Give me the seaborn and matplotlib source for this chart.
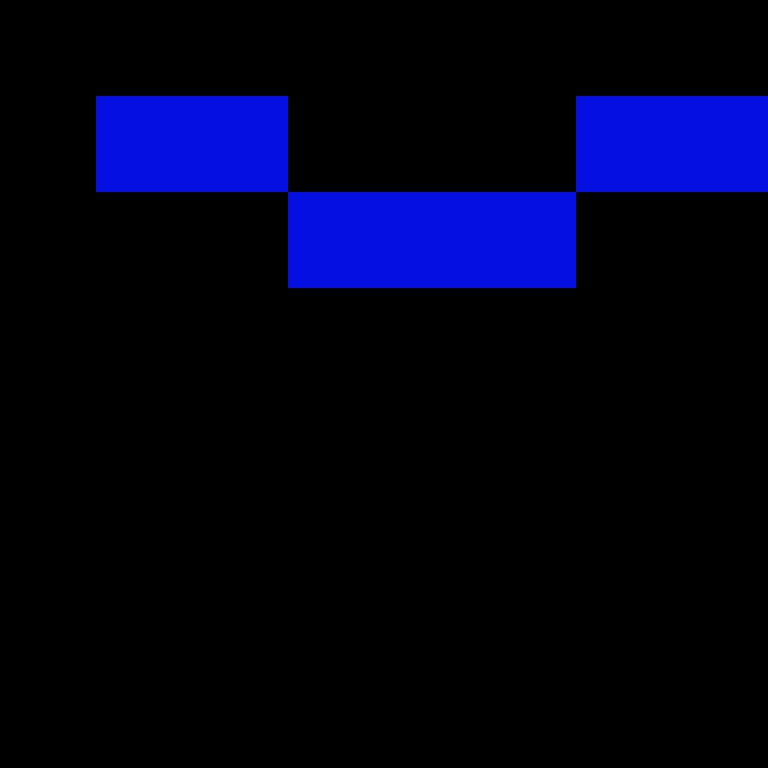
import numpy as np
import pandas as pd
import seaborn as sns
import matplotlib
matplotlib.use("Agg")
import matplotlib.pyplot as plt
from matplotlib.colors import ListedColormap

# 8x8 grid of on/off cells
row_labels = ["r0", "r1", "r2", "r3", "r4", "r5", "r6", "r7"]
col_labels = ["c0", "c1", "c2", "c3", "c4", "c5", "c6", "c7"]
row0 = [0, 0, 0, 0, 0, 0, 0, 0]
row1 = [0, 1, 1, 0, 0, 0, 1, 1]
row2 = [0, 0, 0, 1, 1, 1, 0, 0]
row3 = [0, 0, 0, 0, 0, 0, 0, 0]
row4 = [0, 0, 0, 0, 0, 0, 0, 0]
row5 = [0, 0, 0, 0, 0, 0, 0, 0]
row6 = [0, 0, 0, 0, 0, 0, 0, 0]
row7 = [0, 0, 0, 0, 0, 0, 0, 0]

df = pd.DataFrame([row0, row1, row2, row3, row4, row5, row6, row7],
                  index=row_labels, columns=col_labels)

cmap = ListedColormap(["#000000", "#050FE2"])

fig = plt.figure(figsize=(7.68, 7.68), dpi=100)
fig.patch.set_facecolor("black")
ax = fig.add_axes([0, 0, 1, 1])
sns.heatmap(df, ax=ax, cmap=cmap, vmin=0, vmax=1, cbar=False,
            linewidths=0, square=False, xticklabels=False, yticklabels=False)
ax.set_xlabel("")
ax.set_ylabel("")
ax.axis("off")
fig.savefig("out.png", dpi=100, facecolor="black")
